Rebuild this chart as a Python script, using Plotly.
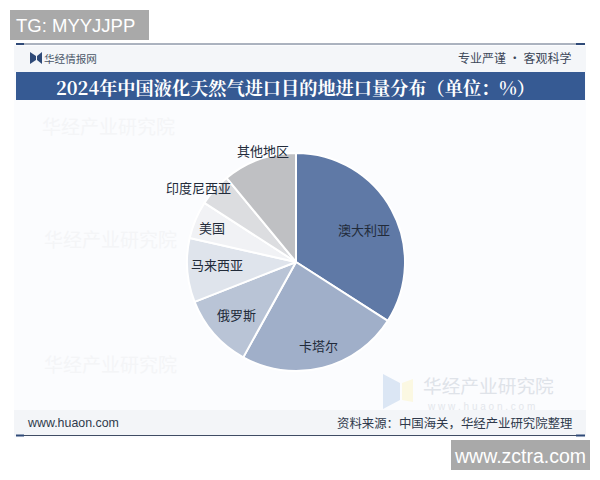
import plotly.graph_objects as go

labels = ["澳大利亚", "卡塔尔", "俄罗斯", "马来西亚", "美国", "印度尼西亚", "其他地区"]
values = [34.1, 24.0, 11.0, 9.5, 5.6, 4.9, 11.0]
colors = ["#5f79a6", "#a0afc9", "#b9c4d6", "#dfe4ec", "#f1f2f5", "#dcdde0", "#bfc0c3"]
label_xy = [(364, 229), (318, 345), (236, 314), (217, 264), (212, 227), (198, 188), (263, 150)]

W, H = 600, 480
fx = lambda x: x / W
fy = lambda y: 1 - y / H

fig = go.Figure(go.Pie(
    labels=labels, values=values, sort=False, direction="clockwise", rotation=0,
    marker=dict(colors=colors, line=dict(color="#ffffff", width=2)),
    textinfo="none",
    domain=dict(x=[fx(187), fx(405)], y=[fy(371), fy(153)]),
    showlegend=False, hoverinfo="label+percent",
))

shapes = []
def rect(x0, y0, x1, y1, color, layer="below"):
    shapes.append(dict(type="rect", xref="paper", yref="paper", x0=fx(x0), x1=fx(x1),
                       y0=fy(y0), y1=fy(y1), fillcolor=color, line_width=0, layer=layer))

rect(14, 44, 586, 438, "#fbfcfe")
rect(14, 46, 586, 72, "#f4f6f9")
rect(14, 410, 586, 436, "#f3f5f8")
rect(16, 72, 585, 100, "#365a93")
rect(16, 43.5, 584, 44.5, "#5a6880")
rect(16, 435, 584, 436, "#3f4c63")
rect(16, 43, 24, 45, "#2f4a78")
rect(576, 43, 585, 45, "#2f4a78")
rect(16, 434.5, 24, 436.5, "#2f4a78")
rect(576, 434.5, 585, 436.5, "#2f4a78")
rect(10, 10, 149, 40, "#a9a9a9", "above")
rect(451, 440, 590, 470, "#a9a9a9", "above")

def path(points, color):
    d = "M" + " L".join(f"{fx(x):.4f},{fy(y):.4f}" for x, y in points) + " Z"
    shapes.append(dict(type="path", xref="paper", yref="paper", path=d, fillcolor=color,
                       line_width=0, layer="below"))
path([(30, 52), (36, 56), (36, 60), (30, 64)], "#2f4a78")
path([(42, 52), (37, 56), (37, 60), (42, 64)], "#2f4a78")
path([(383, 374), (400, 383), (400, 400), (383, 409)], "#dbe6f4")
path([(402, 383), (413, 379), (413, 402), (402, 400)], "#fbf8e2")

def note(x, y, text, size, color, anchor="left", family="Noto Sans CJK SC", **kw):
    return dict(x=fx(x), y=fy(y), xref="paper", yref="paper", text=text, showarrow=False,
                xanchor=anchor, yanchor="middle",
                font=dict(size=size, color=color, family=family), **kw)

annotations = [
    note(14, 25, "TG: MYYJJPP", 18.5, "#ffffff", family="Liberation Sans"),
    note(588, 456, "www.zctra.com", 19.5, "#ffffff", "right", family="Liberation Sans"),
    note(42, 58, "华经情报网", 10.6, "#4a5668"),
    note(573, 57, "专业严谨 • 客观科学", 12, "#3d4859", "right"),
    note(295, 87, "<b>2024年中国液化天然气进口目的地进口量分布（单位：%）</b>", 18.2, "#ffffff", "center",
         family="Noto Serif CJK SC, Noto Sans CJK SC"),
    note(25, 423, "www.huaon.com", 12.4, "#2f3a4c", family="Liberation Sans"),
    note(574, 423, "资料来源：中国海关，华经产业研究院整理", 12.4, "#2f3a4c", "right"),
    note(421, 384, "华经产业研究院", 18.7, "#dfe3e9"),
    note(425, 406, "w w w . h u a o n . c o m", 10, "#e4e7ec", family="Liberation Sans"),
    note(40, 125, "华经产业研究院", 19, "#f4f5f7"),
    note(42, 238, "华经产业研究院", 19, "#f4f5f7"),
    note(42, 363, "华经产业研究院", 19, "#f4f5f7"),
]
for name, (lx, ly) in zip(labels, label_xy):
    annotations.append(note(lx, ly, name, 13, "#222b3a", "center"))

fig.update_layout(width=W, height=H, margin=dict(l=0, r=0, t=0, b=0), autosize=False,
                  paper_bgcolor="#ffffff", shapes=shapes, annotations=annotations)
fig.write_html("out.html", config={"displayModeBar": False},
               post_script="document.body.style.margin='0';")
